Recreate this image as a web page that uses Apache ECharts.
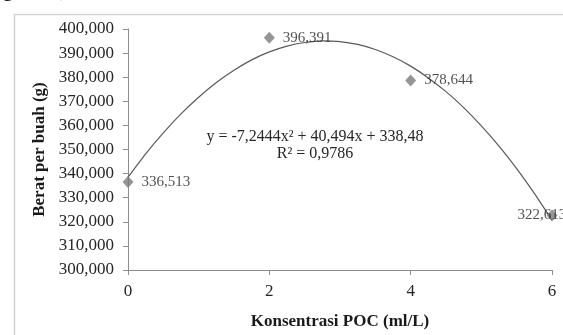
<!DOCTYPE html>
<html>
<head>
<meta charset="utf-8">
<script src="https://cdn.jsdelivr.net/npm/echarts@6/dist/echarts.min.js"></script>
<style>
html,body{margin:0;padding:0;background:#fff;}
#chart{width:563px;height:335px;}
</style>
</head>
<body>
<div id="chart"></div>
<script>
// Observed data (Berat per buah, g) vs Konsentrasi POC (ml/L)
const xValues = [0, 2, 4, 6];
const yValues = [336.513, 396.391, 378.644, 322.613];
const pointLabels = ['336,513', '396,391', '378,644', '322,613'];

// Polynomial trendline
const trendX = [0, 0.25, 0.5, 0.75, 1, 1.25, 1.5, 1.75, 2, 2.25, 2.5, 2.75, 3,
                3.25, 3.5, 3.75, 4, 4.25, 4.5, 4.75, 5, 5.25, 5.5, 5.75, 6];
const trendY = [338.5, 348.2, 356.9, 364.8, 371.7, 377.8, 382.9, 387.2, 390.5, 392.9, 394.4, 395.1, 394.8,
                393.6, 391.5, 388.5, 384.6, 379.7, 374.0, 367.4, 359.8, 351.4, 342.1, 331.8, 320.7];

const equationText = 'y = -7,2444x² + 40,494x + 338,48';
const r2Text = 'R² = 0,9786';
const xTitle = 'Konsentrasi POC (ml/L)';
const yTitle = 'Berat per buah (g)';

const chart = echarts.init(document.getElementById('chart'));
const serif = '"Liberation Serif", "Times New Roman", serif';
const textColor = '#262626';

const scatterData = xValues.map((x, i) => {
  const d = { value: [x, yValues[i]], name: pointLabels[i] };
  if (i === 3) {
    d.label = { offset: [-48, 0] };
  }
  return d;
});

chart.setOption({
  animation: false,
  backgroundColor: '#fff',
  grid: { left: 128, right: 11, top: 29, bottom: 63, containLabel: false },
  xAxis: {
    type: 'value', min: 0, max: 6, interval: 2,
    name: xTitle, nameLocation: 'middle', nameGap: 43,
    nameTextStyle: { fontFamily: serif, fontWeight: 'bold', fontSize: 17, color: '#1a1a1a' },
    axisLine: { show: true, lineStyle: { color: '#8c8c8c', width: 1 } },
    axisTick: { show: true, length: 5, inside: false, lineStyle: { color: '#8c8c8c' } },
    axisLabel: { fontFamily: serif, fontSize: 17, color: textColor, margin: 13 },
    splitLine: { show: false }
  },
  yAxis: {
    type: 'value', min: 300, max: 400, interval: 10,
    name: yTitle, nameLocation: 'middle', nameGap: 80, nameRotate: 90,
    nameTextStyle: { fontFamily: serif, fontWeight: 'bold', fontSize: 17, color: '#1a1a1a' },
    axisLine: { show: true, lineStyle: { color: '#8c8c8c', width: 1 } },
    axisTick: { show: true, length: 5, inside: false, lineStyle: { color: '#8c8c8c' } },
    axisLabel: {
      fontFamily: serif, fontSize: 17, color: textColor, margin: 14,
      formatter: v => v.toFixed(3).replace('.', ',')
    },
    splitLine: { show: false }
  },
  series: [
    {
      type: 'line', data: trendX.map((x, i) => [x, trendY[i]]),
      smooth: 0.2, showSymbol: false, symbol: 'none',
      lineStyle: { color: '#5a5a5a', width: 1.2 }, z: 2
    },
    {
      type: 'scatter', data: scatterData,
      symbol: 'diamond', symbolSize: [11, 12],
      itemStyle: { color: '#7a7a7a' }, z: 3,
      label: {
        show: true, position: 'right', distance: 8,
        formatter: p => p.name,
        fontFamily: serif, fontSize: 15, color: textColor
      }
    }
  ],
  graphic: [
    { type: 'rect', left: 12, top: 12, shape: { width: 600, height: 400 },
      style: { fill: 'none', stroke: '#d4d4d4', lineWidth: 1.5 }, z: -1 },
    { type: 'text', x: 315, y: 137,
      style: { text: equationText, font: '16px ' + serif, fill: textColor, textAlign: 'center', textVerticalAlign: 'middle' } },
    { type: 'text', x: 315, y: 154,
      style: { text: r2Text, font: '16px ' + serif, fill: textColor, textAlign: 'center', textVerticalAlign: 'middle' } },
    { type: 'text', x: 3, y: -19,
      style: { text: 'g', font: 'bold 20px ' + serif, fill: '#222', textVerticalAlign: 'top' } },
    { type: 'text', x: 60, y: -19,
      style: { text: ')', font: 'bold 20px ' + serif, fill: '#222', textVerticalAlign: 'top' } }
  ]
});
</script>
</body>
</html>
